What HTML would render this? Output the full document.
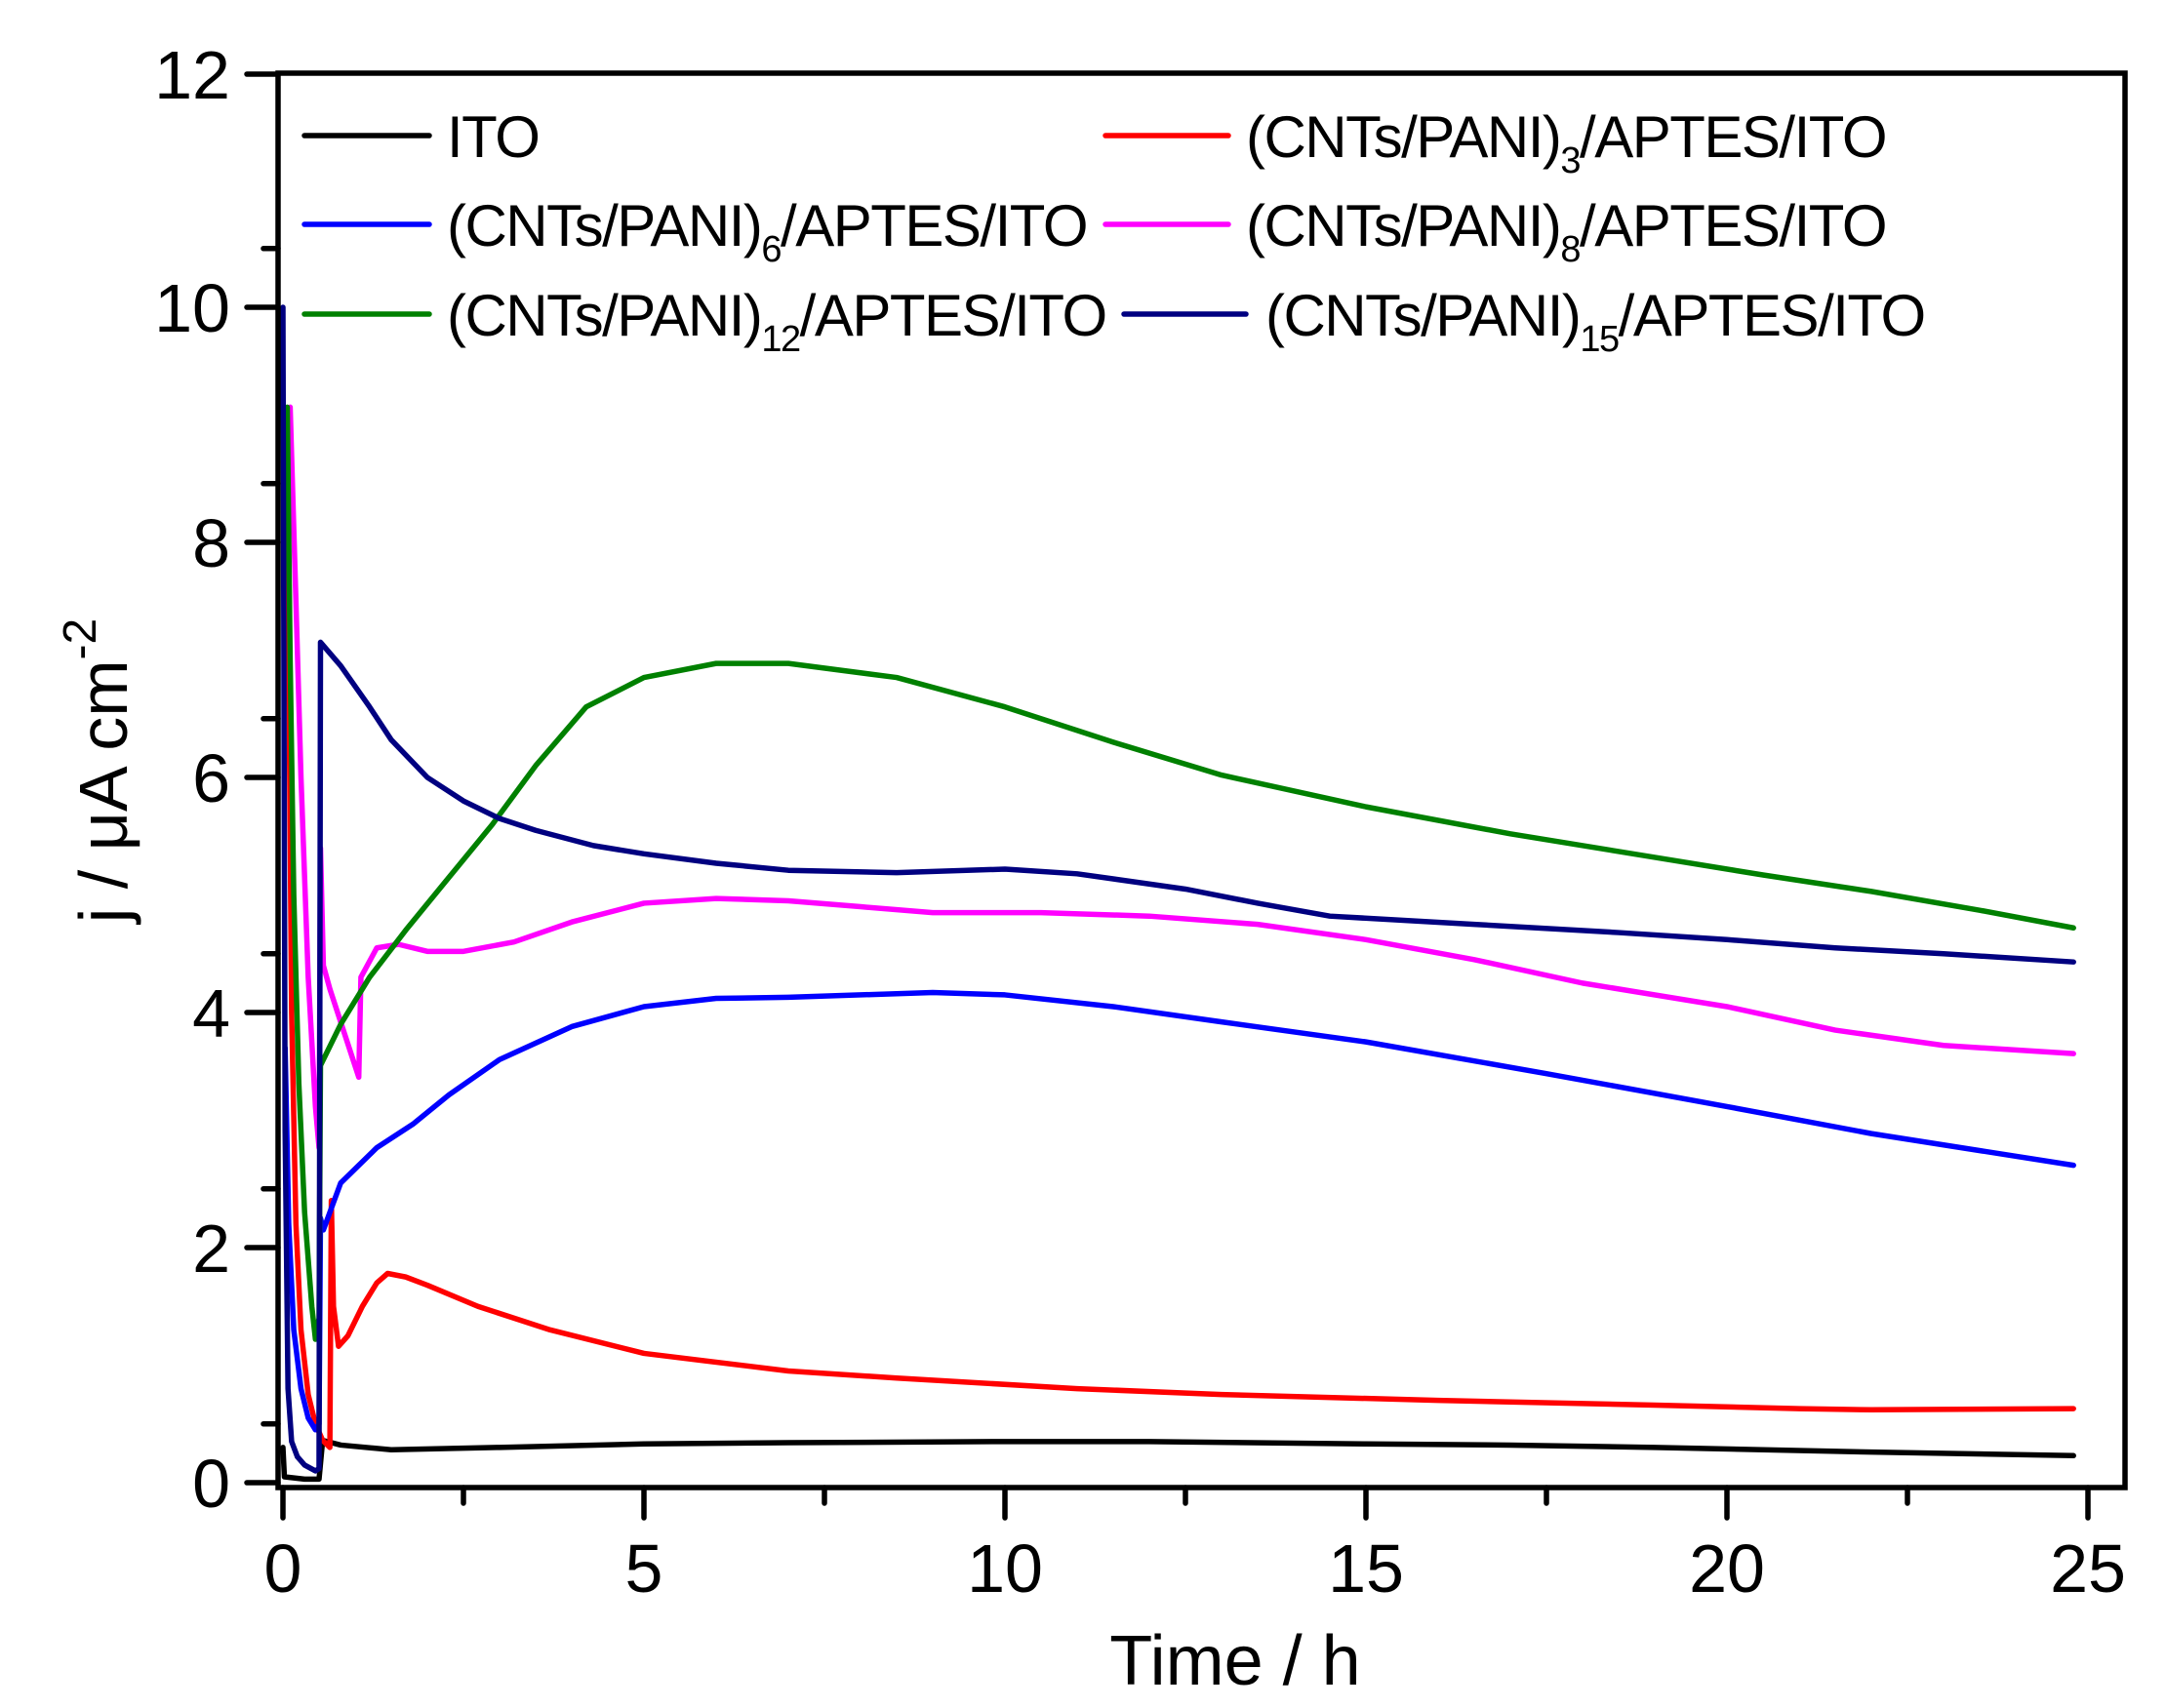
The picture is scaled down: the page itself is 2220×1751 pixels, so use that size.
<!DOCTYPE html>
<html><head><meta charset="utf-8"><style>
html,body{margin:0;padding:0;background:#fff;}
svg{display:block;}
text{font-family:"Liberation Sans",Arial,sans-serif;fill:#000;}
</style></head><body>
<svg width="2220" height="1751" viewBox="0 0 2220 1751" xmlns="http://www.w3.org/2000/svg">
<rect width="2220" height="1751" fill="#fff"/>
<g transform="translate(290,1520) scale(74,-120.5)" fill="none" stroke-linejoin="round" stroke-linecap="round">
<polyline vector-effect="non-scaling-stroke" stroke="#000" stroke-width="5.5" points="0,0.3 0.02,0.05 0.3,0.03 0.5,0.03 0.55,0.36 0.8,0.32 1.5,0.28 3,0.3 5,0.33 7,0.34 10,0.35 12,0.35 15,0.33 17,0.32 19,0.3 22,0.26 24.8,0.23"/>
<polyline vector-effect="non-scaling-stroke" stroke="#ff0000" stroke-width="5.5" points="0.05,9.1 0.08,7 0.12,4 0.18,2.2 0.25,1.3 0.35,0.75 0.45,0.5 0.55,0.36 0.65,0.3 0.67,2.4 0.7,1.5 0.77,1.16 0.9,1.25 1.1,1.5 1.3,1.7 1.45,1.78 1.7,1.75 2,1.68 2.7,1.5 3.7,1.3 5,1.1 7,0.95 8.5,0.89 11,0.8 13,0.75 16,0.7 19,0.66 21,0.63 22,0.62 24.8,0.63"/>
<polyline vector-effect="non-scaling-stroke" stroke="#0000ff" stroke-width="5.5" points="0.03,3.7 0.08,2.2 0.15,1.3 0.25,0.8 0.35,0.55 0.45,0.45 0.5,0.5 0.52,2.25 0.56,2.15 0.65,2.3 0.8,2.55 1.3,2.85 1.8,3.05 2.3,3.3 3,3.6 4,3.88 5,4.05 6,4.12 7,4.13 9,4.17 10,4.15 11.5,4.05 13,3.92 15,3.75 17.5,3.48 20,3.2 22,2.97 24.8,2.7"/>
<polyline vector-effect="non-scaling-stroke" stroke="#ff00ff" stroke-width="5.5" points="0.1,9.15 0.18,7.5 0.25,6 0.35,4.3 0.45,3.2 0.5,2.85 0.52,5.4 0.56,4.4 0.65,4.2 1.05,3.45 1.08,4.3 1.3,4.55 1.6,4.58 2,4.52 2.5,4.52 3.2,4.6 4,4.77 5,4.93 6,4.97 7,4.95 8,4.9 9,4.85 10.5,4.85 12,4.82 13.5,4.75 15,4.62 16.5,4.45 18,4.25 20,4.05 21.5,3.85 23,3.72 24.8,3.65"/>
<polyline vector-effect="non-scaling-stroke" stroke="#008000" stroke-width="5.5" points="0.06,9.15 0.1,7 0.15,5 0.22,3.4 0.3,2.3 0.4,1.5 0.45,1.22 0.5,1.4 0.52,3.55 0.8,3.9 1.2,4.3 1.7,4.7 2.3,5.15 2.9,5.6 3.5,6.1 4.2,6.6 5,6.85 6,6.97 7,6.97 8.5,6.85 10,6.6 11.5,6.3 13,6.02 15,5.75 17,5.52 19,5.32 20.5,5.17 22,5.03 23.5,4.87 24.8,4.72"/>
<polyline vector-effect="non-scaling-stroke" stroke="#000080" stroke-width="5.5" points="0,10 0.03,3 0.07,0.8 0.12,0.35 0.2,0.22 0.3,0.15 0.45,0.1 0.5,0.12 0.52,7.15 0.8,6.95 1.2,6.6 1.5,6.32 2,6.0 2.5,5.8 3,5.65 3.5,5.55 4.3,5.42 5,5.35 6,5.27 7,5.21 8.5,5.19 10,5.22 11,5.18 12.5,5.05 13.5,4.93 14.5,4.82 16.5,4.75 18.5,4.68 20,4.62 21.5,4.55 23,4.5 24.8,4.43"/>
</g>
<rect x="285" y="75" width="1893" height="1450" fill="none" stroke="#000" stroke-width="5.5"/>
<g stroke="#000" stroke-width="5.5" stroke-linecap="round">
<line x1="285" y1="1520" x2="253" y2="1520"/><line x1="285" y1="1459.75" x2="270" y2="1459.75"/>
<line x1="285" y1="1279" x2="253" y2="1279"/><line x1="285" y1="1218.75" x2="270" y2="1218.75"/>
<line x1="285" y1="1038" x2="253" y2="1038"/><line x1="285" y1="977.75" x2="270" y2="977.75"/>
<line x1="285" y1="797" x2="253" y2="797"/><line x1="285" y1="736.75" x2="270" y2="736.75"/>
<line x1="285" y1="556" x2="253" y2="556"/><line x1="285" y1="495.75" x2="270" y2="495.75"/>
<line x1="285" y1="315" x2="253" y2="315"/><line x1="285" y1="254.75" x2="270" y2="254.75"/>
<line x1="285" y1="76" x2="253" y2="76"/>
<line x1="290" y1="1525" x2="290" y2="1556"/><line x1="475" y1="1525" x2="475" y2="1541"/>
<line x1="660" y1="1525" x2="660" y2="1556"/><line x1="845" y1="1525" x2="845" y2="1541"/>
<line x1="1030" y1="1525" x2="1030" y2="1556"/><line x1="1215" y1="1525" x2="1215" y2="1541"/>
<line x1="1400" y1="1525" x2="1400" y2="1556"/><line x1="1585" y1="1525" x2="1585" y2="1541"/>
<line x1="1770" y1="1525" x2="1770" y2="1556"/><line x1="1955" y1="1525" x2="1955" y2="1541"/>
<line x1="2140" y1="1525" x2="2140" y2="1556"/>
</g>
<g font-size="70" text-anchor="end">
<text x="236" y="1545">0</text><text x="236" y="1304">2</text><text x="236" y="1063">4</text>
<text x="236" y="822">6</text><text x="236" y="581">8</text><text x="236" y="340">10</text><text x="236" y="101">12</text>
</g>
<g font-size="70" text-anchor="middle">
<text x="290" y="1632">0</text><text x="660" y="1632">5</text><text x="1030" y="1632">10</text>
<text x="1400" y="1632">15</text><text x="1770" y="1632">20</text><text x="2140" y="1632">25</text>
</g>
<text x="1266" y="1727" font-size="72" text-anchor="middle">Time / h</text>
<text transform="translate(130,790) rotate(-90)" font-size="70" text-anchor="middle">j / μA cm<tspan dy="-32" font-size="48">-2</tspan></text>
<g stroke-width="5.5" stroke-linecap="round">
<line x1="312" y1="139" x2="440" y2="139" stroke="#000"/>
<line x1="312" y1="230" x2="440" y2="230" stroke="#0000ff"/>
<line x1="312" y1="322" x2="440" y2="322" stroke="#008000"/>
<line x1="1133" y1="139" x2="1259" y2="139" stroke="#ff0000"/>
<line x1="1133" y1="230" x2="1259" y2="230" stroke="#ff00ff"/>
<line x1="1152" y1="322" x2="1277" y2="322" stroke="#000080"/>
</g>
<g font-size="60" letter-spacing="-1.5">
<text x="458" y="161">ITO</text>
<text x="458" y="252">(CNTs/PANI)<tspan dy="16" font-size="38">6</tspan><tspan dy="-16">/APTES/ITO</tspan></text>
<text x="458" y="344">(CNTs/PANI)<tspan dy="16" font-size="38">12</tspan><tspan dy="-16">/APTES/ITO</tspan></text>
<text x="1277" y="161">(CNTs/PANI)<tspan dy="16" font-size="38">3</tspan><tspan dy="-16">/APTES/ITO</tspan></text>
<text x="1277" y="252">(CNTs/PANI)<tspan dy="16" font-size="38">8</tspan><tspan dy="-16">/APTES/ITO</tspan></text>
<text x="1297" y="344">(CNTs/PANI)<tspan dy="16" font-size="38">15</tspan><tspan dy="-16">/APTES/ITO</tspan></text>
</g>
</svg>
</body></html>
